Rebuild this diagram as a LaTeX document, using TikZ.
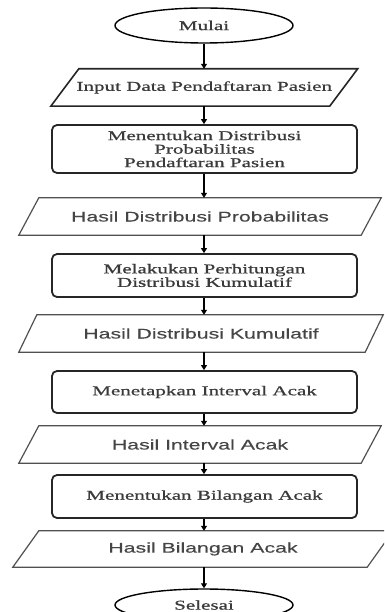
\documentclass[tikz,border=0pt]{standalone}
\usepackage{fontspec}
\setmainfont{Liberation Serif}
\newfontfamily\serifw[FakeStretch=1.56,FakeBold=0.8]{Liberation Serif}
\newfontfamily\sansw[FakeStretch=1.52,FakeBold=0.3]{Liberation Sans}
\usetikzlibrary{shapes.geometric,arrows.meta}
\definecolor{txtserif}{HTML}{3A3A3A}
\definecolor{txtsans}{HTML}{454545}
\definecolor{paracol}{HTML}{505050}
\tikzset{
  terminal/.style={ellipse, draw=black, line width=1.4pt, minimum width=178pt, minimum height=35pt, inner sep=0pt,
    font=\serifw\fontsize{13.5}{13.5}\selectfont, text=txtserif},
  procbox/.style={rectangle, rounded corners=5pt, draw=black!85, line width=1.8pt, minimum width=305pt, inner sep=0pt,
    align=center, font=\serifw\fontsize{13.5}{13.5}\selectfont, text=txtserif},
  parabox/.style={rectangle, draw=none, inner sep=0pt, align=center},
  paraserif/.style={parabox, font=\serifw\fontsize{13.5}{13.5}\selectfont, text=txtserif},
  parasans/.style={parabox, font=\sansw\fontsize{14}{14}\selectfont, text=txtsans},
  parline/.style={draw=paracol, line width=1.2pt, line join=miter},
  parlinedark/.style={draw=black!85, line width=1.6pt, line join=miter},
  flow/.style={draw=black, line width=1.1pt, -{Triangle[length=5pt,width=6pt]}}
}
\newcommand\drawpara[3]{\draw[#3] ([xshift=#2/2]#1.north west) -- ([xshift=#2/2]#1.north east) -- ([xshift=-#2/2]#1.south east) -- ([xshift=-#2/2]#1.south west) -- cycle;}
\begin{document}
\begin{tikzpicture}[x=1pt,y=-1pt]
\useasboundingbox (0,0) rectangle (384,612);
\clip (0,0) rectangle (384,612);
\node[terminal] (mulai) at (204,25.5) {Mulai};
\node[paraserif, minimum width=278.5pt, minimum height=37pt] (p1) at (204.25,87.5) {Input Data Pendaftaran Pasien};
\drawpara{p1}{28}{parlinedark}
\node[procbox, minimum height=48pt] (b1) at (204.5,149) {Menentukan Distribusi\\Probabilitas\\Pendaftaran Pasien};
\node[parasans, minimum width=342pt, minimum height=37pt] (p2) at (200,216.5) {Hasil Distribusi Probabilitas};
\drawpara{p2}{20}{parline}
\node[procbox, minimum height=43pt] (b2) at (204.5,275.5) {Melakukan Perhitungan\\Distribusi Kumulatif};
\node[parasans, minimum width=346pt, minimum height=37pt] (p3) at (201,333.5) {Hasil Distribusi Kumulatif};
\drawpara{p3}{18}{parline}
\node[procbox, minimum height=42pt] (b3) at (204.5,392) {Menetapkan Interval Acak};
\node[parasans, minimum width=342pt, minimum height=37pt] (p4) at (200,444.5) {Hasil Interval Acak};
\drawpara{p4}{20}{parline}
\node[procbox, minimum height=43pt] (b4) at (204.5,496.5) {Menentukan Bilangan Acak};
\node[parasans, minimum width=354pt, minimum height=36pt] (p5) at (203,549) {Hasil Bilangan Acak};
\drawpara{p5}{26}{parline}
\node[terminal, minimum height=32pt] (selesai) at (204,605) {Selesai};
\draw[flow] (mulai.south) -- (mulai.south |- p1.north);
\draw[flow] (mulai.south |- p1.south) -- (mulai.south |- b1.north);
\draw[flow] (mulai.south |- b1.south) -- (mulai.south |- p2.north);
\draw[flow] (mulai.south |- p2.south) -- (mulai.south |- b2.north);
\draw[flow] (mulai.south |- b2.south) -- (mulai.south |- p3.north);
\draw[flow] (mulai.south |- p3.south) -- (mulai.south |- b3.north);
\draw[flow] (mulai.south |- b3.south) -- (mulai.south |- p4.north);
\draw[flow] (mulai.south |- p4.south) -- (mulai.south |- b4.north);
\draw[flow] (mulai.south |- b4.south) -- (mulai.south |- p5.north);
\draw[flow] (mulai.south |- p5.south) -- (selesai.north);
\end{tikzpicture}
\end{document}
